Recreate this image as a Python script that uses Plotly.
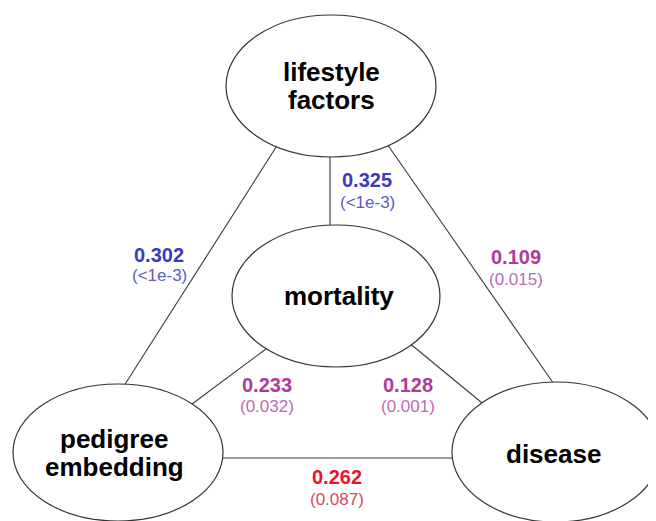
import plotly.graph_objects as go

# ---- data ----
node_names = ["lifestyle<br>factors", "mortality", "pedigree<br>embedding", "disease"]
node_cx = [331, 336, 118, 556]
node_cy = [86, 296, 452.5, 452]
node_rx = [105, 104, 105, 104]
node_ry = [71, 71, 68.5, 70]
node_text_x = [331, 339, 114, 553]
node_text_y = [86, 296, 453, 454]

edge_values = ["0.325", "0.302", "0.109", "0.233", "0.128", "0.262"]
edge_pvalues = ["(<1e-3)", "(<1e-3)", "(0.015)", "(0.032)", "(0.001)", "(0.087)"]
edge_value_colors = ["#3b3bbf", "#3b3bbf", "#b0399e", "#b0399e", "#b0399e", "#f0102c"]
edge_pvalue_colors = ["#5c5cc4", "#5c5cc4", "#c06ab4", "#c06ab4", "#c06ab4", "#d9485c"]
# label positions (value line, p-value line)
label_x = [367, 159, 516, 267, 408, 337]
label_y_val = [180, 255, 257, 385, 385, 477]
label_y_p = [202, 275, 279, 406, 406, 499]
# edge segments (x0, y0, x1, y1)
edge_x0 = [330, 280, 385, 270, 408, 218]
edge_y0 = [150, 141, 141, 346, 342, 458]
edge_x1 = [330, 122, 556, 188, 487, 457]
edge_y1 = [235, 389, 387, 407, 407, 458]

FONT = "Arial, 'Liberation Sans', sans-serif"
PAGE_OFFSET = 8  # default body margin of the html page

fig = go.Figure()
fig.add_trace(go.Scatter(x=[0, 656], y=[0, 521], mode="markers",
                         marker=dict(opacity=0), hoverinfo="skip", showlegend=False))

shapes = []
for x0, y0, x1, y1 in zip(edge_x0, edge_y0, edge_x1, edge_y1):
    shapes.append(dict(type="line", xref="x", yref="y", x0=x0, y0=y0, x1=x1, y1=y1,
                       line=dict(color="#3a3a3a", width=1.1), layer="above"))
for cx, cy, rx, ry in zip(node_cx, node_cy, node_rx, node_ry):
    shapes.append(dict(type="circle", xref="x", yref="y",
                       x0=cx - rx, x1=cx + rx, y0=cy - ry, y1=cy + ry,
                       fillcolor="white", line=dict(color="#333333", width=1.2),
                       layer="above"))

annotations = []
# node labels, one annotation per line for tight line spacing
line_gap = 28
for name, tx, ty in zip(node_names, node_text_x, node_text_y):
    parts = name.split("<br>")
    n = len(parts)
    for i, p in enumerate(parts):
        yy = ty + (i - (n - 1) / 2) * line_gap
        annotations.append(dict(x=tx, y=yy, text="<b>%s</b>" % p, showarrow=False,
                                xanchor="center", yanchor="middle",
                                font=dict(family=FONT, size=26, color="black")))

for v, p, cv, cp, lx, yv, yp in zip(edge_values, edge_pvalues, edge_value_colors,
                                     edge_pvalue_colors, label_x, label_y_val, label_y_p):
    annotations.append(dict(x=lx, y=yv, text="<b>%s</b>" % v, showarrow=False,
                            xanchor="center", yanchor="middle",
                            font=dict(family=FONT, size=20, color=cv)))
    annotations.append(dict(x=lx, y=yp, text=p, showarrow=False,
                            xanchor="center", yanchor="middle",
                            font=dict(family=FONT, size=17, color=cp)))

fig.update_layout(
    width=656, height=521,
    margin=dict(l=0, r=0, t=0, b=0),
    paper_bgcolor="white", plot_bgcolor="white",
    xaxis=dict(range=[PAGE_OFFSET, 656 + PAGE_OFFSET], visible=False, fixedrange=True),
    yaxis=dict(range=[521 + PAGE_OFFSET, PAGE_OFFSET], visible=False, fixedrange=True),
    shapes=shapes, annotations=annotations, showlegend=False,
)

fig.write_html("out.html")
